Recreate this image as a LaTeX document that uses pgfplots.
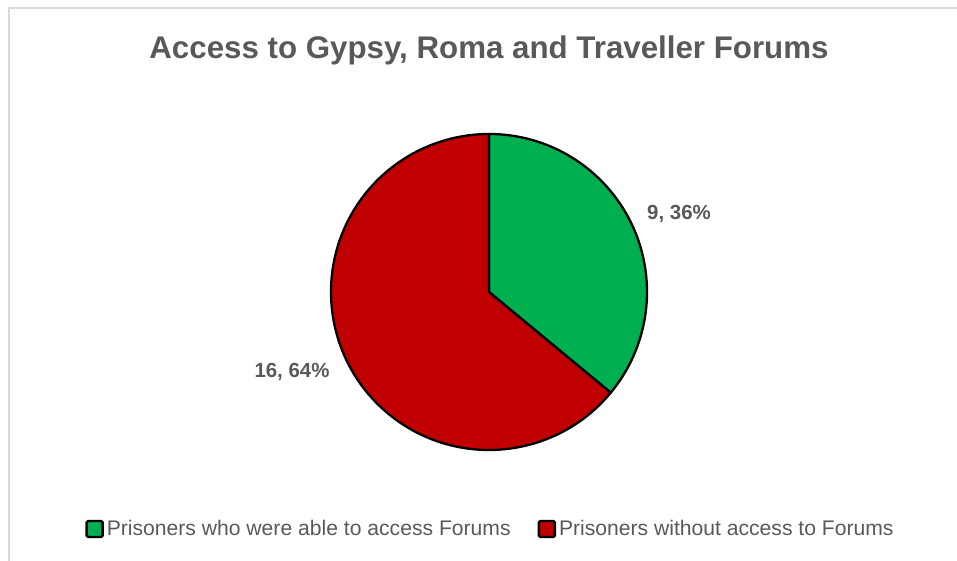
\documentclass[border=0pt]{standalone}
\usepackage{pgfplots}
\pgfplotsset{compat=1.18}
\usepackage{fontspec}
\setmainfont{Liberation Sans}
\definecolor{pgreen}{HTML}{00B050}
\definecolor{pred}{HTML}{C00000}
\definecolor{txtgray}{HTML}{595959}
\definecolor{bordergray}{HTML}{D9D9D9}
% data: number of prisoners
\def\valA{9}  % able to access Forums
\def\valB{16} % without access
\pgfmathsetmacro\angA{90-360*\valA/(\valA+\valB)}
\pgfmathsetmacro\angB{\angA-360*\valB/(\valA+\valB)}
\begin{document}
\begin{tikzpicture}
\path[use as bounding box] (0,0) rectangle (957bp,561bp);
\begin{axis}[
  at={(0,0)}, anchor=south west,
  scale only axis, width=957bp, height=561bp,
  xmin=0, xmax=957, ymin=0, ymax=561,
  hide axis, clip=false,
  legend columns=2,
  legend style={draw=none, fill=none, at={(491/957,32/561)}, anchor=center,
    font=\fontsize{21.2}{25}\selectfont\color{txtgray},
    /tikz/every even column/.append style={column sep=24bp},
    nodes={inner xsep=3bp},
    inner sep=0pt, outer sep=0pt},
  legend cell align=left,
  legend image code/.code={\draw[#1, line width=2.4bp, rounded corners=1.5bp] (0bp,-8bp) rectangle (16bp,8bp);},
]
\draw[bordergray, line width=2bp] (axis cs:9,0) -- (axis cs:9,553) -- (axis cs:957,553);
\addlegendimage{fill=pgreen, draw=black}
\addlegendentry{Prisoners who were able to access Forums}
\addlegendimage{fill=pred, draw=black}
\addlegendentry{Prisoners without access to Forums}
\filldraw[fill=pgreen, draw=black, line width=2.3bp, line join=round]
  (axis cs:489,269) -- ++(90:158bp) arc[start angle=90, end angle=\angA, radius=158bp] -- cycle;
\filldraw[fill=pred, draw=black, line width=2.3bp, line join=round]
  (axis cs:489,269) -- ++(\angA:158bp) arc[start angle=\angA, end angle=\angB, radius=158bp] -- cycle;
\node[font=\fontsize{31.4}{36}\selectfont\bfseries, text=txtgray] at (axis cs:489,511) {Access to Gypsy, Roma and Traveller Forums};
\node[font=\fontsize{20.5}{24}\selectfont\bfseries, text=txtgray] at (axis cs:679,347) {9, 36\%};
\node[font=\fontsize{20.5}{24}\selectfont\bfseries, text=txtgray] at (axis cs:292,189) {16, 64\%};
\end{axis}
\end{tikzpicture}
\end{document}
